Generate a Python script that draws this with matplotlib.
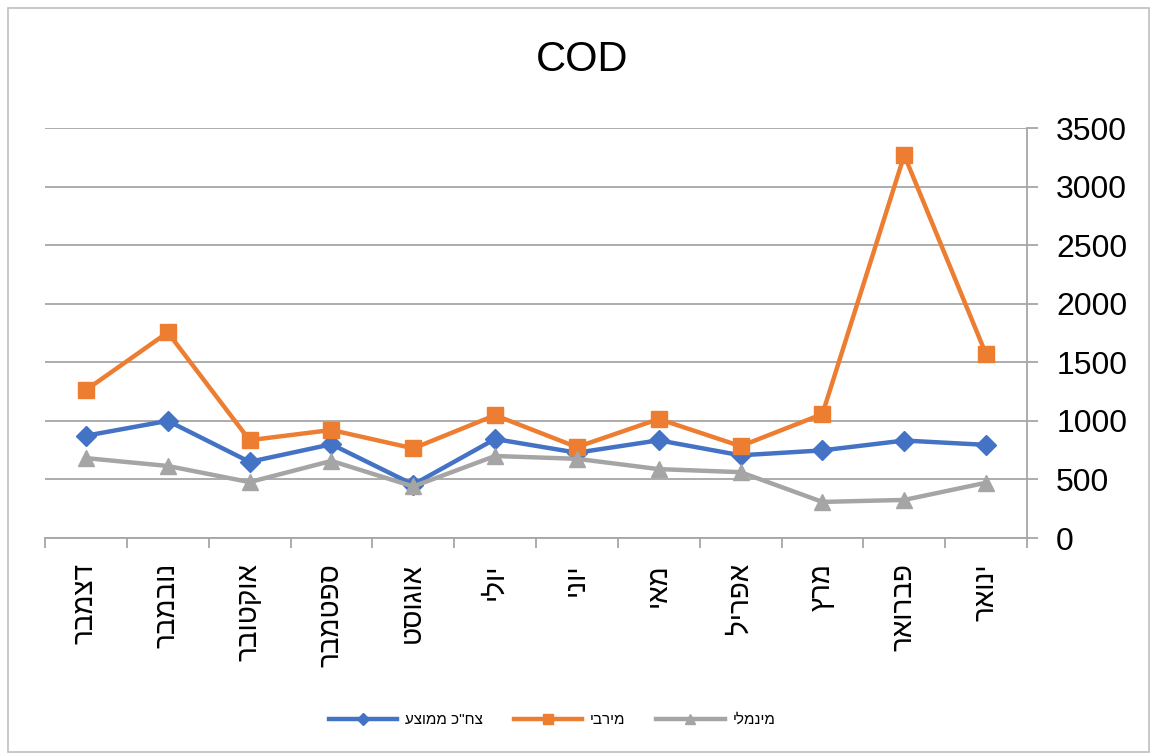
import numpy as np
import matplotlib.pyplot as plt
from matplotlib.patches import Rectangle

plt.rcParams['font.family'] = ['Liberation Sans', 'DejaVu Sans']

# months in chronological order (axis is drawn right-to-left)
months = ['ינואר', 'פברואר', 'מרץ', 'אפריל', 'מאי', 'יוני',
          'יולי', 'אוגוסט', 'ספטמבר', 'אוקטובר', 'נובמבר', 'דצמבר']
avg_vals = [795, 832, 748, 706, 834, 728, 845, 456, 800, 650, 1000, 873]
max_vals = [1568, 3268, 1058, 784, 1016, 776, 1048, 765, 922, 835, 1755, 1263]
min_vals = [472, 325, 308, 562, 588, 676, 700, 440, 658, 477, 615, 682]
series_names = ['צח"כ ממוצע', 'מירבי', 'מינמלי']
y_ticks = [0, 500, 1000, 1500, 2000, 2500, 3000, 3500]


def rtl(s):
    # matplotlib has no bidi support, so flip hebrew to visual order
    return s[::-1]


fig = plt.figure(figsize=(11.52, 7.55), dpi=100)
ax = fig.add_axes([45 / 1152, 1 - 538 / 755, (1027 - 45) / 1152, (538 - 128) / 755])

x = np.arange(len(months))
ax.plot(x, avg_vals, color='#4472C4', lw=3.2, marker='D', ms=10, label=rtl(series_names[0]))
ax.plot(x, max_vals, color='#ED7D31', lw=3.2, marker='s', ms=11, label=rtl(series_names[1]))
ax.plot(x, min_vals, color='#A5A5A5', lw=3.2, marker='^', ms=12, label=rtl(series_names[2]))

ax.set_xlim(-0.5, len(months) - 0.5)
ax.invert_xaxis()
ax.set_ylim(0, 3500)
ax.set_yticks(y_ticks)
ax.yaxis.tick_right()
ax.grid(axis='y', color='#A6A6A6', lw=1.3)
ax.set_axisbelow(True)

ax.set_xticks(x)
ax.set_xticklabels([rtl(m) for m in months], rotation=90, fontsize=20)
ax.set_xticks(np.arange(-0.5, len(months)), minor=True)
ax.tick_params(axis='x', which='major', length=0, pad=18)
ax.tick_params(axis='x', which='minor', length=7, color='#A6A6A6', width=1.3)
ax.tick_params(axis='y', length=8, color='#A6A6A6', width=1.3, labelsize=23, pad=13)

for s in ['left', 'top']:
    ax.spines[s].set_visible(False)
for s in ['right', 'bottom']:
    ax.spines[s].set_color('#A6A6A6')
    ax.spines[s].set_linewidth(1.3)

fig.text(582 / 1152, 1 - 60 / 755, 'COD', fontsize=30, ha='center', va='center')

ax.legend(loc='center', bbox_to_anchor=(552 / 1152, 1 - 720 / 755), bbox_transform=fig.transFigure,
          ncol=3, frameon=False, fontsize=11, handlelength=4.5, handletextpad=0.5,
          columnspacing=2.0, markerscale=0.6)

fig.patches.append(Rectangle((8 / 1152, 3 / 755), 1141 / 1152, 744 / 755, transform=fig.transFigure,
                             fill=False, edgecolor='#BFBFBF', lw=1.2))

fig.savefig('out.png', dpi=100)
